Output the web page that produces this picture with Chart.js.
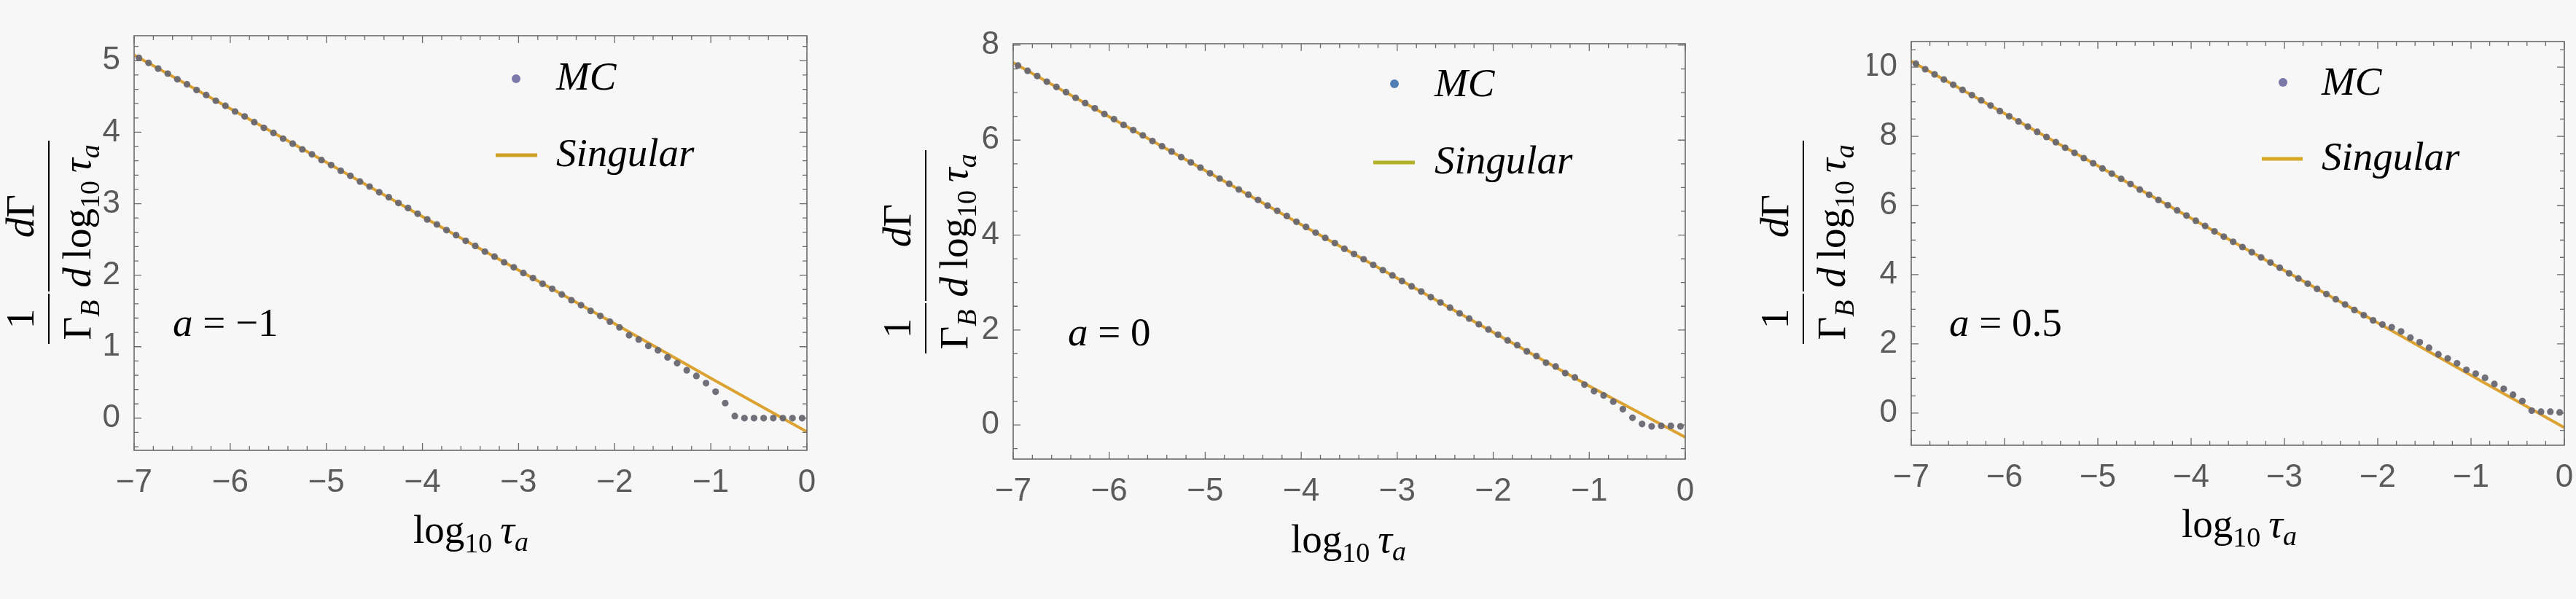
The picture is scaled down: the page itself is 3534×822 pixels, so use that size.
<!DOCTYPE html>
<html lang="en">
<head>
<meta charset="UTF-8">
<title>MC vs Singular</title>
<script src="https://cdn.jsdelivr.net/npm/chart.js@4"></script>
<style>
    * { margin: 0; padding: 0; box-sizing: border-box; }
    body { width: 3534px; height: 822px; background: #f7f7f7; position: relative; overflow: hidden; }
    .panel { position: absolute; top: 0; width: 1178px; height: 822px; }
</style>
</head>
<body>
<div class="panel" style="left:0px"><canvas id="c1"></canvas></div>
<div class="panel" style="left:1178px"><canvas id="c2"></canvas></div>
<div class="panel" style="left:2356px"><canvas id="c3"></canvas></div>

<script>
// bin centres of the MC histogram (log10 tau_a)
const X_BINS = [
    -6.95, -6.85, -6.75, -6.65, -6.55, -6.45, -6.35, -6.25, -6.15, -6.05,
    -5.95, -5.85, -5.75, -5.65, -5.55, -5.45, -5.35, -5.25, -5.15, -5.05,
    -4.95, -4.85, -4.75, -4.65, -4.55, -4.45, -4.35, -4.25, -4.15, -4.05,
    -3.95, -3.85, -3.75, -3.65, -3.55, -3.45, -3.35, -3.25, -3.15, -3.05,
    -2.95, -2.85, -2.75, -2.65, -2.55, -2.45, -2.35, -2.25, -2.15, -2.05,
    -1.95, -1.85, -1.75, -1.65, -1.55, -1.45, -1.35, -1.25, -1.15, -1.05,
    -0.95, -0.85, -0.75, -0.65, -0.55, -0.45, -0.35, -0.25, -0.15, -0.05
];

// MC values, a = -1
const MC_A_M1 = [
    5.04, 4.97, 4.89, 4.82, 4.74, 4.67, 4.59, 4.52, 4.44, 4.37,
    4.29, 4.22, 4.14, 4.06, 3.99, 3.91, 3.84, 3.76, 3.69, 3.61,
    3.54, 3.46, 3.39, 3.31, 3.24, 3.16, 3.09, 3.01, 2.94, 2.86,
    2.78, 2.71, 2.63, 2.56, 2.48, 2.41, 2.33, 2.26, 2.18, 2.11,
    2.03, 1.96, 1.88, 1.81, 1.73, 1.65, 1.58, 1.50, 1.43, 1.35,
    1.27, 1.16, 1.10, 1.01, 0.95, 0.85, 0.77, 0.67, 0.59, 0.49,
    0.37, 0.21, 0.03, 0.00, 0.00, 0.00, 0.00, 0.00, 0.00, 0.00
];

// MC values, a = 0
const MC_A_0 = [
    7.57, 7.46, 7.35, 7.23, 7.12, 7.01, 6.89, 6.78, 6.67, 6.55,
    6.44, 6.32, 6.21, 6.10, 5.98, 5.87, 5.76, 5.64, 5.53, 5.42,
    5.30, 5.19, 5.08, 4.96, 4.85, 4.74, 4.62, 4.51, 4.40, 4.28,
    4.17, 4.05, 3.94, 3.83, 3.71, 3.60, 3.49, 3.37, 3.26, 3.15,
    3.03, 2.92, 2.81, 2.69, 2.58, 2.47, 2.35, 2.24, 2.12, 2.01,
    1.90, 1.78, 1.68, 1.55, 1.45, 1.31, 1.23, 1.09, 1.00, 0.85,
    0.71, 0.62, 0.49, 0.33, 0.15, 0.02, -0.03, -0.02, -0.02, -0.03
];

// MC values, a = 0.5
const MC_A_05 = [
    10.10, 9.94, 9.79, 9.64, 9.49, 9.34, 9.19, 9.04, 8.89, 8.73,
    8.58, 8.43, 8.28, 8.13, 7.98, 7.83, 7.67, 7.52, 7.37, 7.22,
    7.07, 6.92, 6.77, 6.62, 6.46, 6.31, 6.16, 6.01, 5.86, 5.71,
    5.56, 5.41, 5.25, 5.10, 4.95, 4.80, 4.65, 4.50, 4.35, 4.20,
    4.04, 3.89, 3.74, 3.59, 3.44, 3.29, 3.14, 2.98, 2.83, 2.68,
    2.56, 2.48, 2.36, 2.18, 2.05, 1.89, 1.70, 1.58, 1.44, 1.25,
    1.14, 1.02, 0.84, 0.70, 0.53, 0.35, 0.07, 0.04, 0.04, 0.02
];

// singular curve
const SING_X = [-7, -6, -5, -4, -3, -2, -1, 0];
const SING_A_M1 = [5.08, 4.33, 3.58, 2.82, 2.07, 1.32, 0.56, -0.19];
const SING_A_0 = [7.63, 6.49, 5.36, 4.22, 3.09, 1.95, 0.82, -0.26];
const SING_A_05 = [10.17, 8.66, 7.15, 5.63, 4.12, 2.61, 1.09, -0.42];

// tick labels
const X_TICKS = [-7, -6, -5, -4, -3, -2, -1, 0];
const Y_TICKS_1 = [0, 1, 2, 3, 4, 5];
const Y_TICKS_2 = [0, 2, 4, 6, 8];
const Y_TICKS_3 = [0, 2, 4, 6, 8, 10];

const PANEL_LABELS = ['\u2212' + '1', '0', '0.5'];
const LEGEND_LABELS = ['MC', 'Singular'];

const SERIF = '"Liberation Serif", "Times New Roman", serif';
const SANS = '"Liberation Sans", Arial, sans-serif';
const F_UP = '55px ' + SERIF;
const F_IT = 'italic 55px ' + SERIF;
const F_SUB = '38px ' + SERIF;
const F_SUB_IT = 'italic 38px ' + SERIF;

function toPoints(xs, ys) {
    return xs.map((x, i) => ({ x: x, y: ys[i] }));
}

// draw a run of text pieces [text, font, dy] one after another
function drawRich(ctx, segs, x, y, align) {
    let w = 0;
    segs.forEach(s => { ctx.font = s[1]; w += ctx.measureText(s[0]).width; });
    let cx = align === 'center' ? x - w / 2 : x;
    segs.forEach(s => {
        ctx.font = s[1];
        ctx.fillText(s[0], cx, y + (s[2] || 0));
        cx += ctx.measureText(s[0]).width;
    });
}

function drawYTitle(ctx, bx, by) {
    ctx.save();
    ctx.translate(bx, by);
    ctx.rotate(-Math.PI / 2);
    ctx.strokeStyle = '#000';
    ctx.lineWidth = 2;
    ctx.beginPath();
    ctx.moveTo(0, 0); ctx.lineTo(69, 0);
    ctx.moveTo(72, 0); ctx.lineTo(279, 0);
    ctx.stroke();
    drawRich(ctx, [['1', F_UP]], 34.5, -21, 'center');
    drawRich(ctx, [['\u0393', F_UP], ['B', F_SUB_IT, 12]], 33, 57, 'center');
    drawRich(ctx, [['d', F_IT], ['\u0393', F_UP]], 175.5, -21, 'center');
    drawRich(ctx, [['d', F_IT], ['\u2009log', F_UP], ['10', F_SUB, 12],
                   ['\u2009\u03c4', F_IT], ['a', F_SUB_IT, 12]], 175.5, 57, 'center');
    ctx.restore();
}

// frame with inward ticks on all four sides
const framePlugin = {
    id: 'frame',
    afterDatasetsDraw(chart, args, opts) {
        const { ctx, chartArea: a, scales: { x, y } } = chart;
        ctx.save();
        ctx.strokeStyle = '#6a6a6a';
        ctx.lineWidth = 1.6;
        ctx.strokeRect(a.left, a.top, a.right - a.left, a.bottom - a.top);
        ctx.lineWidth = 1.3;
        ctx.beginPath();
        for (let k = 0; k <= 35; k++) {
            const px = x.getPixelForValue(-7 + k * 0.2);
            const len = k % 5 === 0 ? 10 : 6;
            ctx.moveTo(px, a.bottom); ctx.lineTo(px, a.bottom - len);
            ctx.moveTo(px, a.top); ctx.lineTo(px, a.top + len);
        }
        const n = Math.round(opts.yMajor / opts.yMinor);
        const k0 = Math.ceil(y.min / opts.yMinor);
        const k1 = Math.floor(y.max / opts.yMinor);
        for (let k = k0; k <= k1; k++) {
            const py = y.getPixelForValue(k * opts.yMinor);
            const len = k % n === 0 ? 10 : 6;
            ctx.moveTo(a.left, py); ctx.lineTo(a.left + len, py);
            ctx.moveTo(a.right, py); ctx.lineTo(a.right - len, py);
        }
        ctx.stroke();
        ctx.restore();
    }
};

// legend, panel label and axis titles
const decorPlugin = {
    id: 'decor',
    afterDraw(chart, args, o) {
        const ctx = chart.ctx;
        ctx.save();
        ctx.textAlign = 'left';
        ctx.textBaseline = 'alphabetic';

        ctx.fillStyle = o.dotColor;
        ctx.beginPath();
        ctx.arc(o.dot[0], o.dot[1], 6, 0, Math.PI * 2);
        ctx.fill();
        ctx.strokeStyle = o.swatchColor;
        ctx.lineWidth = 5;
        ctx.beginPath();
        ctx.moveTo(o.swatch[0], o.swatch[2]);
        ctx.lineTo(o.swatch[1], o.swatch[2]);
        ctx.stroke();

        ctx.fillStyle = '#000';
        drawRich(ctx, [[LEGEND_LABELS[0], F_IT]], o.textX, o.mcBase, 'left');
        drawRich(ctx, [[LEGEND_LABELS[1], F_IT]], o.textX, o.singBase, 'left');
        drawRich(ctx, [['a', F_IT], [' = ' + o.label, F_UP]], o.aPos[0], o.aPos[1], 'left');
        drawRich(ctx, [['log', F_UP], ['10', F_SUB, 13], ['\u2009\u03c4', F_IT], ['a', F_SUB_IT, 11]],
                 o.xTitle[0], o.xTitle[1], 'center');
        drawYTitle(ctx, o.yTitle[0], o.yTitle[1]);
        ctx.restore();
    }
};

function makePanel(id, mc, sing, yMin, yMax, yTicks, yMajor, yMinor, pad, decor) {
    new Chart(document.getElementById(id), {
        type: 'scatter',
        data: {
            datasets: [
                {
                    type: 'line',
                    label: LEGEND_LABELS[1],
                    data: toPoints(SING_X, sing),
                    borderColor: '#dca232',
                    borderWidth: 4,
                    pointRadius: 0,
                    tension: 0,
                    order: 2
                },
                {
                    label: LEGEND_LABELS[0],
                    data: toPoints(X_BINS, mc),
                    backgroundColor: 'rgba(100, 100, 112, 0.92)',
                    borderWidth: 0,
                    pointRadius: 4.6,
                    order: 1
                }
            ]
        },
        options: {
            responsive: true,
            maintainAspectRatio: false,
            animation: false,
            layout: { padding: pad },
            plugins: {
                legend: { display: false },
                tooltip: { enabled: false },
                frame: { yMajor: yMajor, yMinor: yMinor },
                decor: decor
            },
            scales: {
                x: {
                    type: 'linear',
                    min: -7,
                    max: 0,
                    grid: { display: false },
                    border: { display: false },
                    afterBuildTicks: s => { s.ticks = X_TICKS.map(v => ({ value: v })); },
                    afterFit: s => { s.height = 60; s.paddingLeft = 0; s.paddingRight = 0; },
                    ticks: {
                        autoSkip: false,
                        maxRotation: 0,
                        padding: 10,
                        color: '#5a5a5a',
                        font: { family: SANS, size: 44 },
                        callback: v => v < 0 ? '\u2212' + (-v) : String(v)
                    }
                },
                y: {
                    type: 'linear',
                    min: yMin,
                    max: yMax,
                    grid: { display: false },
                    border: { display: false },
                    afterBuildTicks: s => { s.ticks = yTicks.map(v => ({ value: v })); },
                    afterFit: s => { s.width = 60; s.paddingTop = 0; s.paddingBottom = 0; },
                    ticks: {
                        autoSkip: false,
                        padding: 11,
                        color: '#5a5a5a',
                        font: { family: SANS, size: 44 },
                        callback: v => String(v)
                    }
                }
            }
        },
        plugins: [framePlugin, decorPlugin]
    });
}

makePanel('c1', MC_A_M1, SING_A_M1, -0.45, 5.35, Y_TICKS_1, 1, 0.2,
    { left: 124, top: 49, right: 71, bottom: 144 },
    {
        dot: [708, 108], dotColor: '#7a78a8',
        swatch: [680, 737, 213], swatchColor: '#cfa024',
        textX: 763, mcBase: 123, singBase: 228,
        label: PANEL_LABELS[0], aPos: [237, 461],
        xTitle: [646, 745], yTitle: [67, 472]
    });

makePanel('c2', MC_A_0, SING_A_0, -0.72, 8.03, Y_TICKS_2, 2, 0.5,
    { left: 152, top: 60, right: 44, bottom: 132 },
    {
        dot: [735, 115], dotColor: '#4f7fb5',
        swatch: [706, 763, 223], swatchColor: '#b4b02a',
        textX: 790, mcBase: 132, singBase: 238,
        label: PANEL_LABELS[1], aPos: [287, 474],
        xTitle: [672, 758], yTitle: [92, 485]
    });

makePanel('c3', MC_A_05, SING_A_05, -0.93, 10.74, Y_TICKS_3, 2, 0.5,
    { left: 206, top: 57, right: 16, bottom: 151 },
    {
        dot: [776, 113], dotColor: '#7a78a8',
        swatch: [747, 803, 218], swatchColor: '#d8a828',
        textX: 829, mcBase: 130, singBase: 233,
        label: PANEL_LABELS[2], aPos: [318, 461],
        xTitle: [716, 737], yTitle: [118, 472]
    });
</script>
</body>
</html>
